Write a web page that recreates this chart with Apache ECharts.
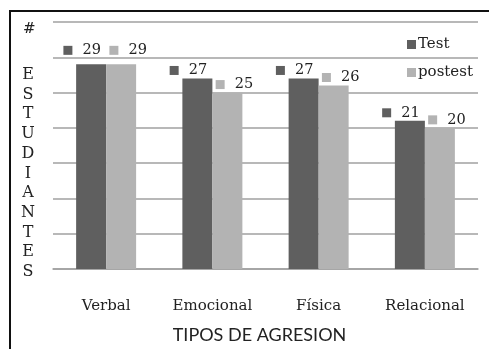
<!DOCTYPE html>
<html>
<head>
<meta charset="utf-8">
<style>
  html, body { margin: 0; padding: 0; background: #ffffff; }
  #chart { width: 489px; height: 349px; }
</style>
<script src="https://cdn.jsdelivr.net/npm/echarts@6/dist/echarts.min.js"></script>
</head>
<body>
<div id="chart"></div>
<script>
// Aggression types and student counts for each round of measurement
const categories = ['Verbal', 'Emocional', 'Física', 'Relacional'];
const testValues = [29, 27, 27, 21];
const postestValues = [29, 25, 26, 20];
const seriesNames = ['Test', 'postest'];
const yAxisLetters = 'ESTUDIANTES'.split('');

const DARK = '#5f5f5f';
const LIGHT = '#b3b3b3';
const SERIF = '"DejaVu Serif", "Liberation Serif", serif';
const SANS = 'Lato, "Open Sans", sans-serif';

// Value label with a small colour key in front of the number
function keyedLabel(color, dx) {
  return {
    show: true,
    position: 'top',
    distance: 0,
    offset: [dx, 0],
    formatter: function (p) { return '{k|}{v|' + p.value + '}'; },
    rich: {
      k: { width: 9, height: 9, backgroundColor: color },
      v: { fontFamily: SERIF, fontSize: 14.5, color: '#222', padding: [0, 0, 0, 10], lineHeight: 16 }
    }
  };
}

// The first category's labels sit a little higher, clear of the gridline
function barData(values, dx) {
  return values.map(function (v, i) {
    return i === 0 ? { value: v, label: { offset: [dx, -6] } } : v;
  });
}

const chart = echarts.init(document.getElementById('chart'), null, { renderer: 'canvas' });

chart.setOption({
  animation: false,
  backgroundColor: '#ffffff',
  grid: { left: 53, right: 11, top: 22, bottom: 69 },
  legend: {
    data: seriesNames,
    orient: 'vertical',
    left: 407,
    top: 37,
    padding: 0,
    itemWidth: 9,
    itemHeight: 9,
    itemGap: 13,
    icon: 'rect',
    textStyle: { fontFamily: SERIF, fontSize: 15, color: '#222', padding: [0, 0, 0, -3] }
  },
  xAxis: {
    type: 'category',
    data: categories,
    axisLine: { lineStyle: { color: '#a0a0a0', width: 1.5 } },
    axisTick: { show: false },
    axisLabel: { fontFamily: SERIF, fontSize: 15, color: '#222', margin: 30, interval: 0 },
    name: 'TIPOS DE AGRESION',
    nameLocation: 'middle',
    nameGap: 57,
    nameTextStyle: { fontFamily: SANS, fontSize: 18, color: '#222', padding: [0, 12, 0, 0] }
  },
  yAxis: {
    type: 'value',
    min: 0,
    max: 35,
    interval: 5,
    axisLabel: { show: false },
    axisLine: { show: false },
    axisTick: { show: false },
    splitLine: { lineStyle: { color: '#a0a0a0', width: 1.5 } }
  },
  series: [
    {
      name: seriesNames[0],
      type: 'bar',
      data: barData(testValues, -9),
      barWidth: 30,
      barGap: '0%',
      itemStyle: { color: DARK },
      label: keyedLabel(DARK, -9)
    },
    {
      name: seriesNames[1],
      type: 'bar',
      data: barData(postestValues, 7),
      barWidth: 30,
      barGap: '0%',
      itemStyle: { color: LIGHT },
      label: keyedLabel(LIGHT, 7)
    }
  ],
  graphic: [
    {
      type: 'rect',
      shape: { x: 10, y: 11, width: 600, height: 500 },
      style: { fill: 'none', stroke: '#111', lineWidth: 2 },
      silent: true
    },
    {
      type: 'text',
      left: 23,
      top: 22,
      style: { text: '#', font: '15px ' + SERIF, fill: '#222' }
    },
    {
      type: 'text',
      x: 28,
      y: 65,
      style: {
        text: yAxisLetters.join('\n'),
        font: '16px ' + SERIF,
        lineHeight: 19.7,
        align: 'center',
        fill: '#222'
      }
    }
  ]
});
</script>
</body>
</html>
